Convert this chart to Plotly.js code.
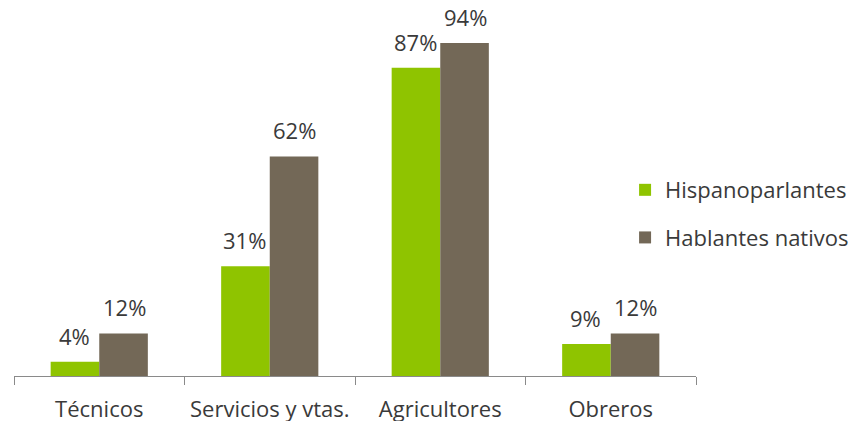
<!DOCTYPE html>
<html>
<head>
<meta charset="utf-8">
<script src="https://cdn.plot.ly/plotly-3.0.1.min.js"></script>
<style>html,body{margin:0;padding:0;background:#fff;}#chart{width:858px;height:421px;}</style>
</head>
<body>
<div id="chart"></div>
<script>
var categories = ["Técnicos", "Servicios y vtas.", "Agricultores", "Obreros"];
var hispanoparlantes = [4, 31, 87, 9];
var hablantesNativos = [12, 62, 94, 12];
var seriesNames = ["Hispanoparlantes", "Hablantes nativos"];

var green = "#8fc400";
var brown = "#736857";
var textColor = "#3a3a3a";
var fontFam = "Open Sans, DejaVu Sans, sans-serif";
var fs = 22;

var traces = [
  {type: "bar", name: seriesNames[0], x: categories, y: hispanoparlantes,
   marker: {color: green}, legendgroup: "a", hoverinfo: "none"},
  {type: "bar", name: seriesNames[1], x: categories, y: hablantesNativos,
   marker: {color: brown}, legendgroup: "b", hoverinfo: "none"}
];

var annotations = [];
[hispanoparlantes, hablantesNativos].forEach(function (vals, si) {
  vals.forEach(function (v, i) {
    annotations.push({
      x: categories[i], y: v, xref: "x", yref: "y",
      text: v + "%", showarrow: false,
      xshift: si === 0 ? -25 : 25, yshift: 9, yanchor: "bottom",
      font: {family: fontFam, size: fs, color: textColor}
    });
  });
});

var layout = {
  width: 858, height: 421,
  margin: {l: 14, r: 162, t: 20, b: 45, autoexpand: false},
  paper_bgcolor: "#fff", plot_bgcolor: "#fff",
  barmode: "group", bargap: 0.43, bargroupgap: 0,
  font: {family: fontFam, size: fs, color: textColor},
  showlegend: true,
  legend: {x: 0.896, xref: "paper", y: 0.455, yref: "paper", yanchor: "middle",
           font: {family: fontFam, size: fs, color: textColor},
           traceorder: "grouped", tracegroupgap: 16, itemwidth: 30},
  xaxis: {type: "category", showline: true, linecolor: "#8a8a8a", linewidth: 1,
          ticks: "outside", tickson: "boundaries", ticklen: 8, tickcolor: "#8a8a8a",
          ticklabelstandoff: 14, tickangle: 0, automargin: false,
          tickfont: {family: fontFam, size: fs, color: textColor},
          showgrid: false, zeroline: false, fixedrange: true},
  yaxis: {range: [0, 100.5], visible: false, showgrid: false, zeroline: false, fixedrange: true},
  annotations: annotations
};

Plotly.newPlot("chart", traces, layout, {displayModeBar: false, staticPlot: true});
</script>
</body>
</html>
